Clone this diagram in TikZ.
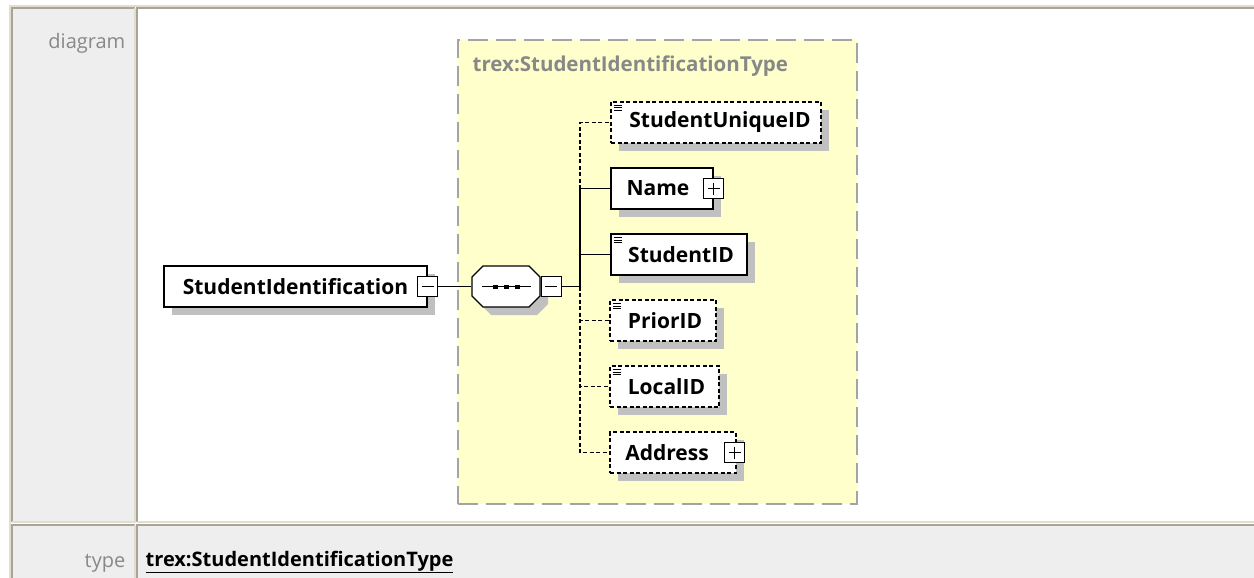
\documentclass[tikz,border=0pt]{standalone}
\usepackage{fontspec}
\setmainfont{Open Sans}
\usetikzlibrary{positioning, shadows}
\definecolor{cellgrey}{HTML}{EEEEEE}
\definecolor{celldark}{HTML}{A8A498}
\definecolor{celllight}{HTML}{E2DECF}
\definecolor{typeyellow}{HTML}{FFFFCC}
\definecolor{typeborder}{HTML}{A4A4A4}
\definecolor{labelgrey}{HTML}{888888}
\definecolor{shadowgrey}{HTML}{C0C0C0}
\tikzset{
  every picture/.style={line width=1.3pt},
  elem/.style={draw=black, fill=white, minimum height=41pt, inner sep=0pt,
    font=\fontsize{21}{24}\selectfont\bfseries,
    general shadow={shadow xshift=8pt, shadow yshift=-8pt, fill=shadowgrey}},
  optional/.style={dash pattern=on 4pt off 2.5pt},
  doc/.style={path picture={
    \foreach \k in {3.5,6,8.5}
      \draw[solid, line width=1pt] ([xshift=2.5pt, yshift=-\k pt]path picture bounding box.north west) -- ++(8,0);
  }},
  toggle/.style={draw=black, fill=white, minimum width=20pt, minimum height=20pt, inner sep=0pt, line width=1.1pt},
  minus/.style={toggle, path picture={
    \draw[line width=1.1pt] ([xshift=4pt]path picture bounding box.west) -- ([xshift=-4pt]path picture bounding box.east);
  }},
  plus/.style={toggle, path picture={
    \draw[line width=1.1pt] ([xshift=4pt]path picture bounding box.west) -- ([xshift=-4pt]path picture bounding box.east);
    \draw[line width=1.1pt] ([yshift=-4pt]path picture bounding box.north) -- ([yshift=4pt]path picture bounding box.south);
  }},
  seqbox/.style={minimum width=68pt, minimum height=41pt, inner sep=0pt},
  typebox/.style={draw=typeborder, fill=typeyellow, line width=2pt, dash pattern=on 20pt off 8pt,
    minimum width=399pt, minimum height=464pt, inner sep=0pt},
  link/.style={draw=black, line width=1.3pt},
  rowlabel/.style={anchor=base east, inner sep=0pt, text=labelgrey, font=\fontsize{20}{24}\selectfont},
}

\begin{document}
\begin{tikzpicture}[x=1pt, y=-1pt]
  \useasboundingbox (0,0) rectangle (1254,578);
  % table cells: fill, dark top/left edge, light bottom/right edge
  \draw[celllight, line width=2pt] (10,580) |- (1256,6);
  \foreach \xa/\ya/\xb/\yb/\col in {12/8/135/522/cellgrey, 137/8/1256/522/white,
                                    12/525/135/580/cellgrey, 137/525/1256/580/cellgrey} {
    \fill[\col] (\xa,\ya) rectangle (\xb,\yb);
    \draw[celldark, line width=1.5pt] (\xa,\yb) |- (\xb,\ya);
    \draw[celllight, line width=1.5pt] (\xa,\yb) -| (\xb,\ya);
  }
  \node[rowlabel] (diagramLabel) at (126,49) {diagram};
  \node[rowlabel] (typeLabel) at (126,567) {type};
  \node[anchor=base west, inner sep=0pt, font=\fontsize{20}{24}\selectfont\bfseries] (typeLink) at (145,566)
    {\underline{trex:StudentIdentificationType}};

  % complex type frame
  \node[typebox] (typeBox) at (657.5,272) {};
  \node[anchor=base west, inner sep=0pt, text=labelgrey, font=\fontsize{20.5}{24}\selectfont\bfseries] (typeName) at (472,72)
    {trex:StudentIdentificationType};

  % element and sequence
  \node[elem, minimum width=263pt] (root) at (295.5,286.5) {StudentIdentification};
  \node[minus] (rootToggle) at (root.east) {};
  \node[seqbox] (seq) at (506,286.5) {};
  \fill[shadowgrey, shift={(seq.center)}, xshift=8pt, yshift=-8pt]
    (-34,-9.5) -- (-23,-20.5) -- (23,-20.5) -- (34,-9.5) -- (34,9.5) -- (23,20.5) -- (-23,20.5) -- (-34,9.5) -- cycle;
  \filldraw[fill=white, shift={(seq.center)}]
    (-34,-9.5) -- (-23,-20.5) -- (23,-20.5) -- (34,-9.5) -- (34,9.5) -- (23,20.5) -- (-23,20.5) -- (-34,9.5) -- cycle;
  \draw[link] ([xshift=-24pt]seq.center) -- ([xshift=25pt]seq.center);
  \foreach \dx in {-11,0,11}
    \fill ([xshift=\dx pt]seq.center) +(-2.5,-2) rectangle +(2.5,2);
  \node[minus, anchor=west] (seqToggle) at (seq.east) {};
  \coordinate (trunk) at (580,286.5);

  % children
  \node[elem, optional, doc, minimum width=210pt] (uid) at (716,122.5) {\hspace*{8pt}StudentUniqueID};
  \node[elem, minimum width=102pt] (name) at (662,188.5) {Name\hspace*{8pt}};
  \node[plus] (nameToggle) at (name.east) {};
  \node[elem, doc, minimum width=136pt] (sid) at (679,254.5) {\hspace*{4pt}StudentID};
  \node[elem, optional, doc, minimum width=106pt] (prior) at (663,320.5) {\hspace*{4pt}PriorID};
  \node[elem, optional, doc, minimum width=109pt] (local) at (664.5,386.5) {\hspace*{4pt}LocalID};
  \node[elem, optional, minimum width=126pt] (addr) at (673,452.5) {Address\hspace*{12pt}};
  \node[plus] (addrToggle) at ([xshift=-2pt]addr.east) {};

  % connectors
  \draw[link] (rootToggle.east) -- (seq.west);
  \draw[link] (seqToggle.east) -- (trunk);
  \draw[link] (trunk) |- (name.west);
  \draw[link] (trunk) |- (sid.west);
  \draw[link, optional] (trunk) |- (uid.west);
  \draw[link, optional] (trunk) |- (prior.west);
  \draw[link, optional] (trunk) |- (local.west);
  \draw[link, optional] (trunk) |- (addr.west);
\end{tikzpicture}
\end{document}
